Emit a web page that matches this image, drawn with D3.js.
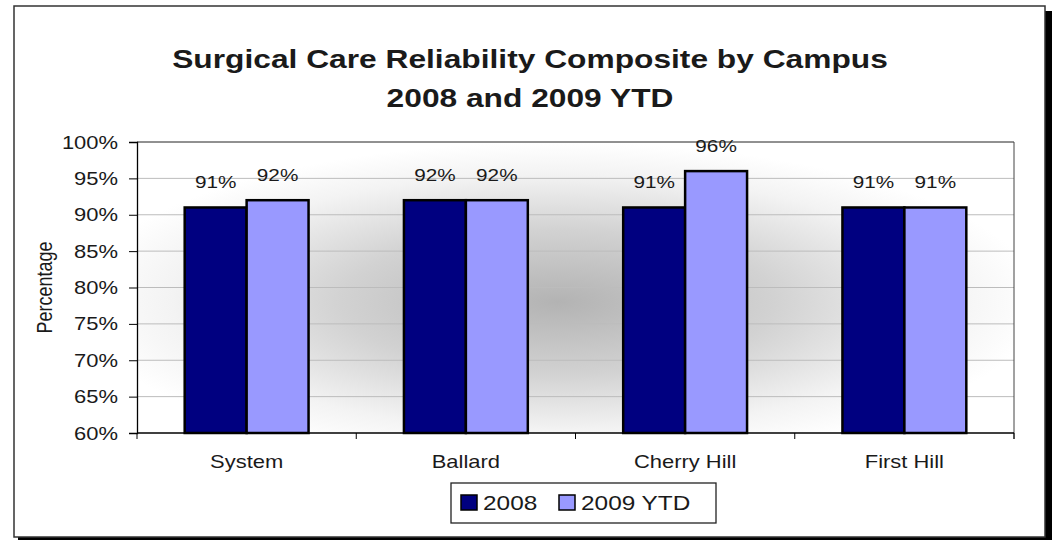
<!DOCTYPE html>
<html>
<head>
<meta charset="utf-8">
<script src="https://cdn.jsdelivr.net/npm/d3@7"></script>
<style>
    body { margin: 0; background: #fff; }
    text { font-family: "Liberation Sans", Arial, sans-serif; fill: #1a1a1a; }
</style>
</head>
<body>
<div id="chart"></div>
<script>
// data
const campuses = ["System", "Ballard", "Cherry Hill", "First Hill"];
const seriesNames = ["2008", "2009 YTD"];
const values2008 = [91, 92, 91, 91];
const values2009 = [92, 92, 96, 91];
const yTicks = [60, 65, 70, 75, 80, 85, 90, 95, 100];
const colors = ["#000080", "#9999ff"];

// the original picture is stretched sideways, so text is too
const SX = 1.22;

const render = () => {
    const width = 1052;
    const height = 540;
    const plot = {left: 137, right: 1014, top: 142, bottom: 433};

    let svg = d3.select("#chart").append("svg")
        .attr("width", width)
        .attr("height", height);

    const stext = (g, x, y, str, size, anchor, weight) => g.append("text")
        .attr("transform", `translate(${x},${y}) scale(${SX},1)`)
        .attr("text-anchor", anchor || "middle")
        .attr("font-size", size)
        .attr("font-weight", weight || "normal")
        .text(str);

    // frame with shadow
    svg.append("rect").attr("x", 18).attr("y", 11).attr("width", 1034).attr("height", 529).attr("fill", "#000");
    svg.append("rect").attr("x", 14).attr("y", 6).attr("width", 1031).attr("height", 531)
        .attr("fill", "#fff").attr("stroke", "#333").attr("stroke-width", 1.5);

    // title
    stext(svg, 530, 68, "Surgical Care Reliability Composite by Campus", 26, "middle", "bold");
    stext(svg, 530, 107, "2008 and 2009 YTD", 26, "middle", "bold");

    const x0 = d3.scaleBand().domain(campuses).range([plot.left, plot.right]);
    const x1 = d3.scaleBand().domain(seriesNames).range([0, x0.bandwidth()]).paddingOuter(0.77);
    const y = d3.scaleLinear().domain([60, 100]).range([plot.bottom, plot.top]);

    // background gradient
    const grad = svg.append("defs").append("radialGradient")
        .attr("id", "bg").attr("cx", "0.48").attr("cy", "0.55").attr("r", "0.55");
    grad.append("stop").attr("offset", "0").attr("stop-color", "#b3b3b3");
    grad.append("stop").attr("offset", "0.45").attr("stop-color", "#d2d2d2");
    grad.append("stop").attr("offset", "0.8").attr("stop-color", "#f3f3f3");
    grad.append("stop").attr("offset", "1").attr("stop-color", "#ffffff");

    svg.append("rect")
        .attr("x", plot.left).attr("y", plot.top)
        .attr("width", plot.right - plot.left).attr("height", plot.bottom - plot.top)
        .attr("fill", "url(#bg)");

    // gridlines
    svg.append("g").selectAll("line")
        .data(yTicks.slice(1))
        .join("line")
        .attr("x1", plot.left).attr("x2", plot.right)
        .attr("y1", d => y(d)).attr("y2", d => y(d))
        .attr("stroke", d => d == 100 ? "#222" : "#bcbcbc")
        .attr("stroke-width", 1);

    // right edge of the plot
    svg.append("line")
        .attr("x1", plot.right).attr("x2", plot.right)
        .attr("y1", plot.top).attr("y2", plot.bottom + 6)
        .attr("stroke", "#444");

    // bars
    const rows = campuses.map((c, i) => ({campus: c, vals: [values2008[i], values2009[i]]}));
    let groups = svg.append("g").selectAll("g")
        .data(rows)
        .join("g")
        .attr("transform", d => `translate(${x0(d.campus)},0)`);

    groups.selectAll("rect")
        .data(d => d.vals.map((v, j) => ({s: seriesNames[j], v: v, j: j})))
        .join("rect")
        .attr("x", d => x1(d.s))
        .attr("y", d => y(d.v))
        .attr("width", x1.bandwidth())
        .attr("height", d => y(60) - y(d.v))
        .attr("fill", d => colors[d.j])
        .attr("stroke", "#000")
        .attr("stroke-width", 2.5);

    groups.each(function(d) {
        const g = d3.select(this);
        d.vals.forEach((v, j) => {
            stext(g, x1(seriesNames[j]) + x1.bandwidth() / 2, y(v) - 19, v + "%", 17);
        });
    });

    // y axis
    svg.append("g")
        .attr("transform", `translate(${plot.left},0)`)
        .call(d3.axisLeft(y).tickValues(yTicks).tickSize(8).tickFormat(() => ""))
        .call(g => g.select(".domain").attr("stroke", "#000").attr("stroke-width", 1.3))
        .call(g => g.selectAll(".tick line").attr("stroke", "#000"));

    yTicks.forEach(t => stext(svg, 118, y(t) + 6.5, t + "%", 18, "end"));

    // x axis, ticks on the band edges
    const edges = campuses.map(c => x0(c)).concat([plot.right]);
    svg.append("line")
        .attr("x1", plot.left).attr("x2", plot.right)
        .attr("y1", plot.bottom).attr("y2", plot.bottom)
        .attr("stroke", "#000").attr("stroke-width", 1.3);
    svg.append("g").selectAll("line")
        .data(edges)
        .join("line")
        .attr("x1", d => d).attr("x2", d => d)
        .attr("y1", plot.bottom).attr("y2", plot.bottom + 6)
        .attr("stroke", "#000");

    campuses.forEach(c => stext(svg, x0(c) + x0.bandwidth() / 2, 468, c, 18));

    // y title
    svg.append("text")
        .attr("transform", `translate(52,${(plot.top + plot.bottom) / 2}) rotate(-90) scale(1,${SX})`)
        .attr("text-anchor", "middle")
        .attr("font-size", 18)
        .text("Percentage");

    // legend
    let leg = svg.append("g");
    leg.append("rect")
        .attr("x", 451).attr("y", 483).attr("width", 265).attr("height", 40)
        .attr("fill", "#fff").attr("stroke", "#222").attr("stroke-width", 1.3);
    const legX = [461, 559];
    seriesNames.forEach((s, i) => {
        leg.append("rect")
            .attr("x", legX[i]).attr("y", 495).attr("width", 16).attr("height", 15)
            .attr("fill", colors[i]).attr("stroke", "#000").attr("stroke-width", 1.5);
        stext(leg, legX[i] + 22, 510, s, 20, "start");
    });
}

render();
</script>
</body>
</html>
